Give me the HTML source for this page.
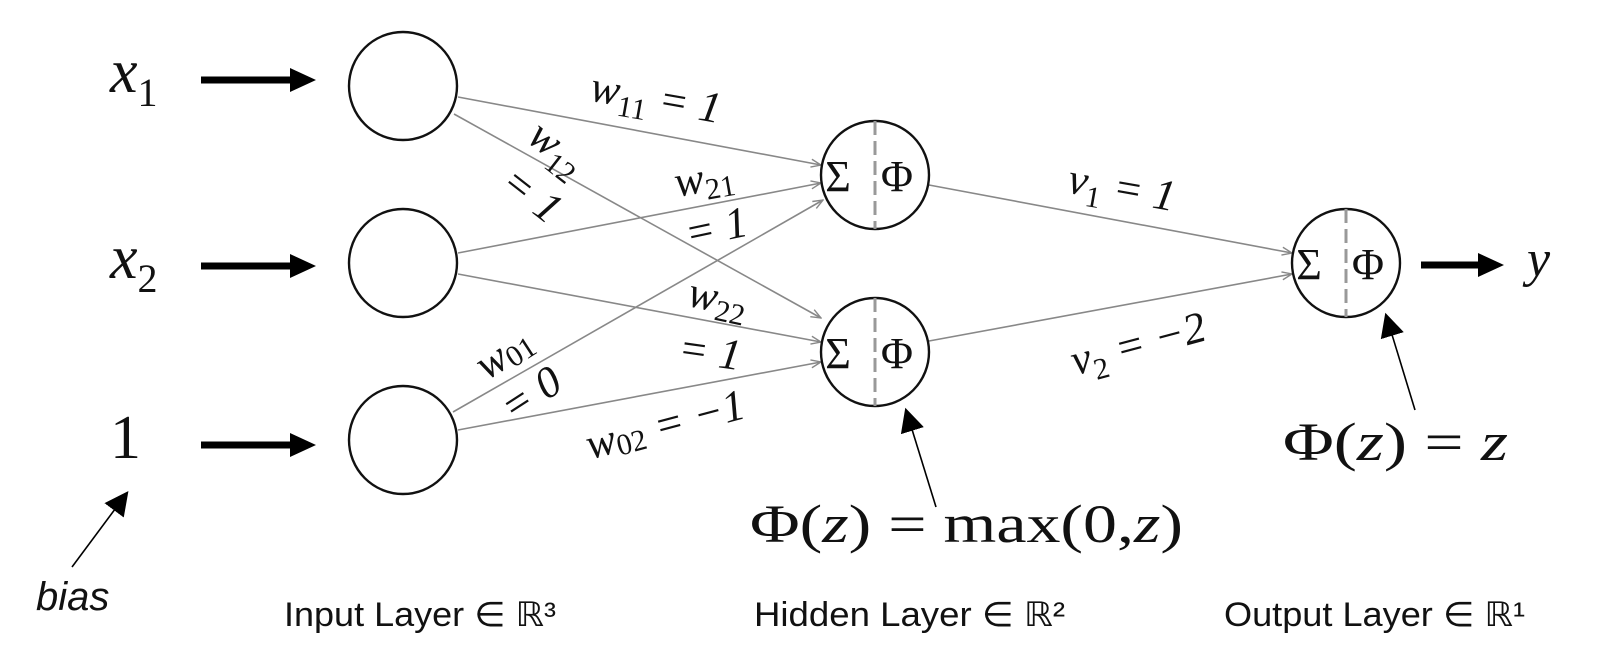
<!DOCTYPE html>
<html><head><meta charset="utf-8"><style>
html,body{margin:0;padding:0;background:#fff;}
svg{display:block;}
.m{font-family:"Liberation Serif","DejaVu Serif",serif;font-style:italic;fill:#111;}
.s{font-family:"Liberation Serif","DejaVu Serif",serif;fill:#111;}
.l{font-family:"Liberation Sans","DejaVu Sans",sans-serif;fill:#111;}
</style></head><body>
<svg width="1600" height="663" viewBox="0 0 1600 663" xmlns="http://www.w3.org/2000/svg">
<defs>
<marker id="o" viewBox="0 0 12 10" refX="11" refY="5" markerWidth="12" markerHeight="10" markerUnits="userSpaceOnUse" orient="auto">
<path d="M1,1 L11,5 L1,9" fill="none" stroke="#888" stroke-width="1.4"/></marker>
<marker id="f" viewBox="0 0 10 10" refX="9" refY="5" markerWidth="24" markerHeight="24" markerUnits="userSpaceOnUse" orient="auto">
<path d="M0,0 L10,5 L0,10 z" fill="#000"/></marker>
</defs>
<g stroke="#000" stroke-width="7">
<line x1="201" y1="80" x2="292" y2="80"/>
<line x1="201" y1="266" x2="292" y2="266"/>
<line x1="201" y1="445" x2="292" y2="445"/>
<line x1="1421" y1="265" x2="1480" y2="265"/>
</g>
<g fill="#000">
<path d="M290,68 L316,80 L290,92z"/>
<path d="M290,254 L316,266 L290,278z"/>
<path d="M290,433 L316,445 L290,457z"/>
<path d="M1478,253 L1504,265 L1478,277z"/>
</g>
<g stroke="#888" stroke-width="1.6" marker-end="url(#o)">
<line x1="458" y1="97" x2="821" y2="165"/>
<line x1="454" y1="114" x2="821" y2="318"/>
<line x1="458" y1="253" x2="821" y2="183"/>
<line x1="458" y1="274" x2="821" y2="342"/>
<line x1="453" y1="412" x2="823" y2="200"/>
<line x1="458" y1="430" x2="821" y2="362"/>
<line x1="929" y1="185" x2="1292" y2="253"/>
<line x1="929" y1="341" x2="1292" y2="274"/>
</g>
<g fill="none" stroke="#111" stroke-width="2.4">
<circle cx="403" cy="86" r="54"/>
<circle cx="403" cy="263" r="54"/>
<circle cx="403" cy="440" r="54"/>
<circle cx="875" cy="175" r="54"/>
<circle cx="875" cy="352" r="54"/>
<circle cx="1346" cy="263" r="54"/>
</g>
<g stroke="#999" stroke-width="3" stroke-dasharray="14,6">
<line x1="875" y1="121" x2="875" y2="229"/>
<line x1="875" y1="298" x2="875" y2="406"/>
<line x1="1346" y1="209" x2="1346" y2="317"/>
</g>
<g class="s" font-size="44">
<text x="838" y="191" text-anchor="middle">Σ</text><text x="897" y="191" text-anchor="middle">Φ</text>
<text x="838" y="368" text-anchor="middle">Σ</text><text x="897" y="368" text-anchor="middle">Φ</text>
<text x="1309" y="279" text-anchor="middle">Σ</text><text x="1368" y="279" text-anchor="middle">Φ</text>
</g>
<text class="m" x="110" y="92" font-size="62">x<tspan font-size="40" dy="14" font-style="normal">1</tspan></text>
<text class="m" x="110" y="278" font-size="62">x<tspan font-size="40" dy="14" font-style="normal">2</tspan></text>
<text class="s" x="110" y="458" font-size="62">1</text>
<text class="m" x="1527" y="276" font-size="52">y</text>
<g class="m" font-size="44">
<text x="656" y="112" text-anchor="middle" transform="rotate(10 656 98)">w<tspan font-size="30" dy="10" font-style="normal">11</tspan><tspan dy="-10"> = 1</tspan></text>
<text x="558" y="162" text-anchor="middle" transform="rotate(38 558 147)">w<tspan font-size="30" dy="10" font-style="normal">12</tspan></text>
<text x="532" y="209" text-anchor="middle" transform="rotate(38 532 195)">= 1</text>
<text x="704" y="192" text-anchor="middle" transform="rotate(-10 704 179)">w<tspan font-size="30" dy="8" font-style="normal">21</tspan></text>
<text x="716" y="242" text-anchor="middle" transform="rotate(-12 716 227)">= 1</text>
<text x="718" y="312" text-anchor="middle" transform="rotate(12 718 298)">w<tspan font-size="30" dy="8" font-style="normal">22</tspan></text>
<text x="710" y="366" text-anchor="middle" transform="rotate(8 710 352)">= 1</text>
<text x="504" y="367" text-anchor="middle" transform="rotate(-33 504 353)">w<tspan font-size="30" dy="4" font-style="normal">01</tspan></text>
<text x="531" y="408" text-anchor="middle" transform="rotate(-33 531 394)">= 0</text>
<text x="665" y="439" text-anchor="middle" transform="rotate(-15 665 424)">w<tspan font-size="30" dy="4" font-style="normal">02</tspan><tspan dy="-4"> = −1</tspan></text>
<text x="1122" y="202" text-anchor="middle" transform="rotate(10 1122 188)">v<tspan font-size="30" dy="10" font-style="normal">1</tspan><tspan dy="-10"> = 1</tspan></text>
<text x="1138" y="358" text-anchor="middle" transform="rotate(-15 1138 343)">v<tspan font-size="30" dy="10" font-style="normal">2</tspan><tspan dy="-10"> = −2</tspan></text>
</g>
<g stroke="#000" stroke-width="1.6" marker-end="url(#f)">
<line x1="936" y1="507" x2="906" y2="410"/>
<line x1="1415" y1="410" x2="1386" y2="315"/>
<line x1="72" y1="567" x2="127" y2="493"/>
</g>
<text class="s" x="750" y="542" font-size="54" textLength="433" lengthAdjust="spacingAndGlyphs">Φ(<tspan font-style="italic">z</tspan>) = max(0,<tspan font-style="italic">z</tspan>)</text>
<text class="s" x="1283" y="460" font-size="54" textLength="225" lengthAdjust="spacingAndGlyphs">Φ(<tspan font-style="italic">z</tspan>) = <tspan font-style="italic">z</tspan></text>
<text class="l" x="36" y="610" font-size="40" font-style="italic">bias</text>
<g class="l" font-size="34">
<text x="284" y="626" textLength="272" lengthAdjust="spacingAndGlyphs">Input Layer ∈ ℝ³</text>
<text x="754" y="626" textLength="311" lengthAdjust="spacingAndGlyphs">Hidden Layer ∈ ℝ²</text>
<text x="1224" y="626" textLength="301" lengthAdjust="spacingAndGlyphs">Output Layer ∈ ℝ¹</text>
</g>
</svg>
</body></html>
